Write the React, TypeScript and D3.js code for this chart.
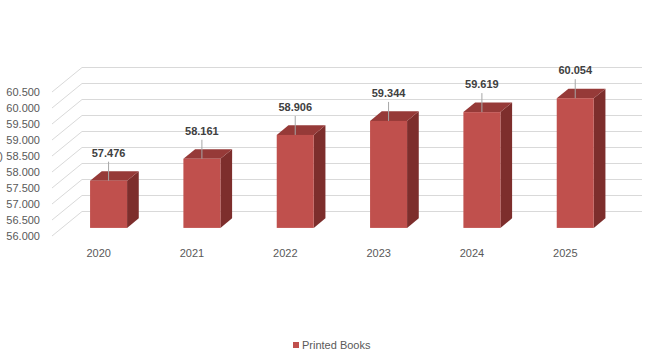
import React, { useEffect, useRef } from 'react';
import * as d3 from 'd3';

const years = ['2020', '2021', '2022', '2023', '2024', '2025'];
const printedBooks = [57.476, 58.161, 58.906, 59.344, 59.619, 60.054];
const yTicks = [56.0, 56.5, 57.0, 57.5, 58.0, 58.5, 59.0, 59.5, 60.0, 60.5];
const seriesName = 'Printed Books';

const W = 653;
const H = 359;
const fmt = (v: number) => v.toFixed(3);

export default function App() {
  const svgRef = useRef<SVGSVGElement>(null);

  useEffect(() => {
    const svg = d3.select(svgRef.current);
    svg.selectAll('*').remove();

    const font = "'Liberation Sans', Arial, sans-serif";
    // 3d depth of the plot box
    const depthX = 30;
    const depthY = -24.5;
    const front = 0.33; // bar front plane (fraction of depth)
    const back = 0.72;

    const x = d3.scaleBand<string>().domain(years).range([52, 612]);
    const y = d3.scaleLinear().domain([56, 60.5]).range([236, 92]);
    const barW = 37;

    svg.append('rect').attr('width', W).attr('height', H).attr('fill', '#fff');

    // side wall diagonals + back wall gridlines
    const grid = svg.append('g').attr('stroke', '#d9d9d9').attr('stroke-width', 1).attr('fill', 'none');
    yTicks.forEach(t => {
      const y0 = y(t);
      grid.append('line')
        .attr('x1', 52).attr('y1', y0)
        .attr('x2', 52 + depthX).attr('y2', y0 + depthY);
      grid.append('line')
        .attr('x1', 52 + depthX).attr('y1', y0 + depthY)
        .attr('x2', 612 + depthX).attr('y2', y0 + depthY);
    });

    // y tick labels
    svg.append('g')
      .selectAll('text')
      .data(yTicks)
      .join('text')
      .attr('x', 40)
      .attr('y', d => y(d))
      .attr('dy', '0.35em')
      .attr('text-anchor', 'end')
      .attr('font-family', font)
      .attr('font-size', 11)
      .attr('fill', '#595959')
      .text(d => fmt(d));

    // clipped axis title remnant
    svg.append('text')
      .attr('x', 3).attr('y', y(58.5)).attr('dy', '0.35em')
      .attr('text-anchor', 'end')
      .attr('font-family', font).attr('font-size', 11).attr('fill', '#595959')
      .text(')');

    // category labels
    svg.append('g')
      .selectAll('text')
      .data(years)
      .join('text')
      .attr('x', d => (x(d) ?? 0) + x.bandwidth() / 2)
      .attr('y', 257)
      .attr('text-anchor', 'middle')
      .attr('font-family', font)
      .attr('font-size', 11)
      .attr('fill', '#595959')
      .text(d => d);

    // bars
    const fx = front * depthX, fy = front * depthY;
    const bx = back * depthX, by = back * depthY;
    years.forEach((yr, i) => {
      const v = printedBooks[i];
      const cx = (x(yr) ?? 0) + x.bandwidth() / 2;
      const x0 = cx - barW / 2 + fx;
      const x1 = x0 + barW;
      const yTop = y(v) + fy;
      const yBot = y(56) + fy;
      const dx = bx - fx, dy = by - fy;
      const g = svg.append('g');
      // side
      g.append('path')
        .attr('d', `M${x1},${yTop}L${x1 + dx},${yTop + dy}L${x1 + dx},${yBot + dy}L${x1},${yBot}Z`)
        .attr('fill', '#7d2e2c');
      // top
      g.append('path')
        .attr('d', `M${x0},${yTop}L${x0 + dx},${yTop + dy}L${x1 + dx},${yTop + dy}L${x1},${yTop}Z`)
        .attr('fill', '#963a38');
      // front
      g.append('rect')
        .attr('x', x0).attr('y', yTop)
        .attr('width', barW).attr('height', yBot - yTop)
        .attr('fill', '#c0504d');

      // leader line + value label
      const lx = x0 + barW / 2;
      g.append('line')
        .attr('x1', lx).attr('y1', yTop - 19)
        .attr('x2', lx).attr('y2', yTop)
        .attr('stroke', '#a6a6a6').attr('stroke-width', 1);
      g.append('text')
        .attr('x', lx)
        .attr('y', yTop - 24)
        .attr('text-anchor', 'middle')
        .attr('font-family', font)
        .attr('font-size', 11)
        .attr('font-weight', 'bold')
        .attr('fill', '#404040')
        .text(fmt(v));
    });

    // legend
    const lg = svg.append('g').attr('transform', 'translate(293,342)');
    lg.append('rect').attr('width', 6).attr('height', 6).attr('fill', '#c0504d');
    lg.append('text')
      .attr('x', 9).attr('y', 3).attr('dy', '0.35em')
      .attr('font-family', font).attr('font-size', 11).attr('fill', '#595959')
      .text(seriesName);
  }, []);

  return (
    <div style={{ position: 'absolute', left: 0, top: 0 }}>
      <svg ref={svgRef} width={W} height={H} style={{ display: 'block' }}></svg>
    </div>
  );
}
